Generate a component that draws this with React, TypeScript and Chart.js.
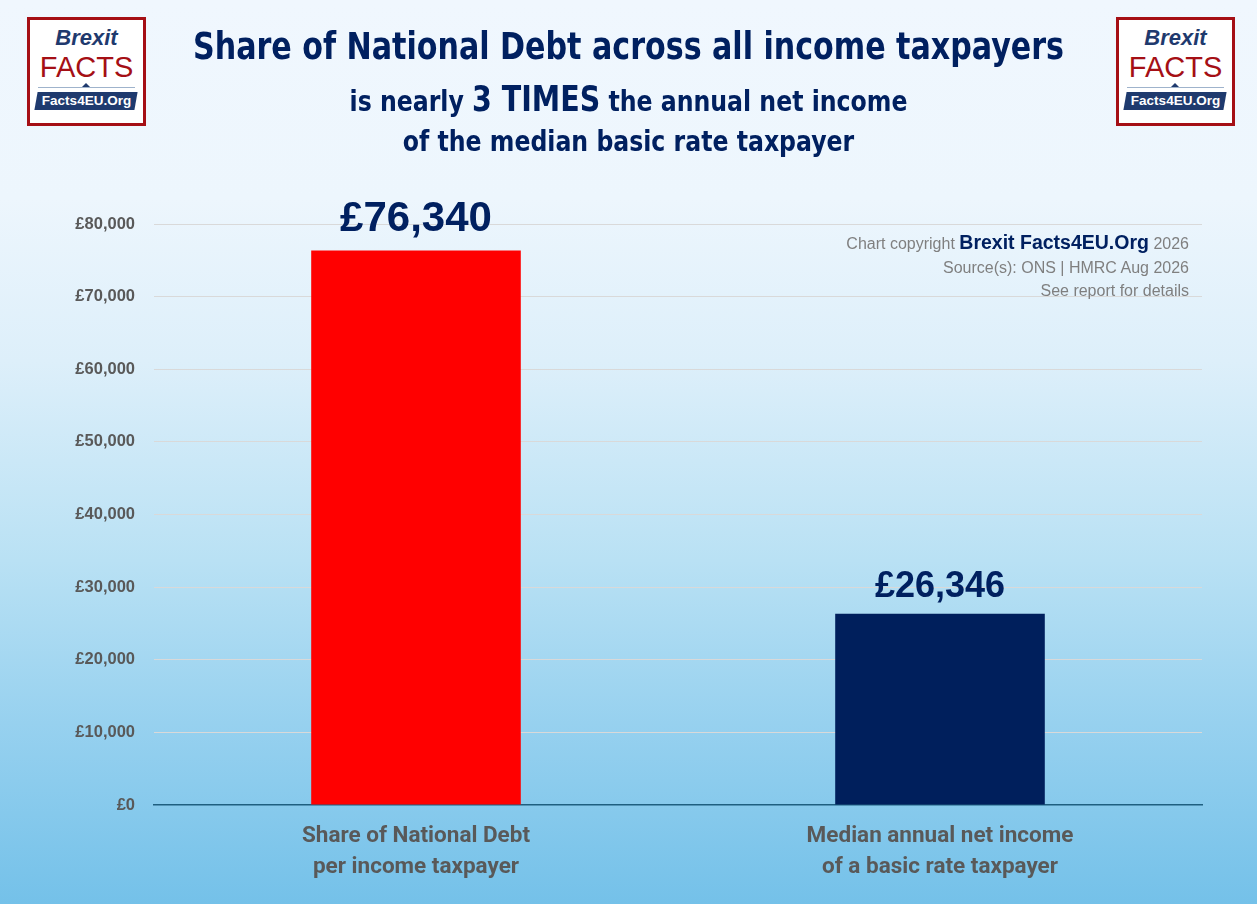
import React, { useEffect, useRef } from "react";
import { Chart, registerables } from "chart.js";

Chart.register(...registerables);

// ---- data ----
const categories: string[][] = [
  ["Share of National Debt", "per income taxpayer"],
  ["Median annual net income", "of a basic rate taxpayer"],
];
const values: number[] = [76340, 26346];
const barColors: string[] = ["#FF0000", "#001F5C"];
const labelFontSizes: number[] = [42, 36];
const yMin = 0;
const yMax = 80000;
const yStep = 10000;

const titleLine1 = "Share of National Debt across all income taxpayers";
const titleLine2a = "is nearly ";
const titleLine2b = "3 TIMES";
const titleLine2c = " the annual net income";
const titleLine3 = "of the median basic rate taxpayer";

const NAVY = "#002060";
const GREY = "#595959";

const fmt = (v: number) => "£" + v.toLocaleString("en-GB");

const valueLabelPlugin = {
  id: "valueLabels",
  afterDatasetsDraw(chart: any) {
    const ctx = chart.ctx;
    const meta = chart.getDatasetMeta(0);
    ctx.save();
    ctx.fillStyle = NAVY;
    ctx.textAlign = "center";
    ctx.textBaseline = "alphabetic";
    meta.data.forEach((bar: any, i: number) => {
      const fs = labelFontSizes[i];
      ctx.font = `bold ${fs}px 'Liberation Sans', Arial, sans-serif`;
      ctx.fillText(fmt(values[i]), bar.x, bar.y - fs * 0.475);
    });
    ctx.restore();
  },
};

function Logo({ left }: { left: number }) {
  return (
    <div
      style={{
        position: "absolute",
        left,
        top: 17,
        width: 119,
        height: 109,
        boxSizing: "border-box",
        border: "3px solid #A50F15",
        background: "#ffffff",
        fontFamily: "'Liberation Sans', Arial, sans-serif",
      }}
    >
      <div
        style={{
          position: "absolute",
          left: 0,
          right: 0,
          top: 6,
          textAlign: "center",
          fontStyle: "italic",
          fontWeight: "bold",
          fontSize: 22,
          lineHeight: "24px",
          color: "#1F3A6E",
        }}
      >
        Brexit
      </div>
      <div
        style={{
          position: "absolute",
          left: 0,
          right: 0,
          top: 31,
          textAlign: "center",
          fontSize: 29,
          lineHeight: "32px",
          color: "#A50F15",
        }}
      >
        FACTS
      </div>
      <div
        style={{
          position: "absolute",
          left: 8,
          right: 8,
          top: 67,
          height: 1,
          background: "#9fb3cc",
        }}
      />
      <div
        style={{
          position: "absolute",
          left: 52,
          top: 63,
          width: 0,
          height: 0,
          borderLeft: "4px solid transparent",
          borderRight: "4px solid transparent",
          borderBottom: "4px solid #1F3A6E",
        }}
      />
      <div
        style={{
          position: "absolute",
          left: 6,
          top: 72,
          width: 100,
          height: 18,
          background: "#1F3A6E",
          transform: "skewX(-10deg)",
        }}
      />
      <div
        style={{
          position: "absolute",
          left: 0,
          right: 0,
          top: 72,
          textAlign: "center",
          fontWeight: "bold",
          fontSize: 13.5,
          lineHeight: "18px",
          color: "#ffffff",
        }}
      >
        Facts4EU.Org
      </div>
    </div>
  );
}

export default function App() {
  const canvasRef = useRef<HTMLCanvasElement | null>(null);

  useEffect(() => {
    document.body.style.margin = "0";
    const canvas = canvasRef.current;
    if (!canvas) return;
    const chart = new Chart(canvas, {
      type: "bar",
      data: {
        labels: categories,
        datasets: [
          {
            data: values,
            backgroundColor: barColors,
            borderWidth: 0,
            barPercentage: 0.8,
            categoryPercentage: 0.5,
          },
        ],
      },
      options: {
        animation: false,
        responsive: false,
        maintainAspectRatio: false,
        layout: { padding: { left: 0, right: 55, top: 224, bottom: 0 } },
        plugins: {
          legend: { display: false },
          tooltip: { enabled: false },
          title: { display: false },
        },
        scales: {
          x: {
            grid: { display: false },
            border: { display: true, color: "#1F5F80", width: 1.5 },
            ticks: {
              color: GREY,
              padding: 8,
              font: {
                family: "Roboto, 'Liberation Sans', Arial, sans-serif",
                size: 22.5,
                weight: "bold",
                lineHeight: 1.38,
              },
            },
            afterFit(scale: any) {
              scale.height = 99;
            },
          },
          y: {
            min: yMin,
            max: yMax,
            grid: {
              color: (c: any) =>
                c.tick && c.tick.value === 0 ? "rgba(0,0,0,0)" : "#D9D9D9",
              lineWidth: 1,
              drawTicks: false,
            },
            border: { display: false },
            ticks: {
              stepSize: yStep,
              padding: 19,
              color: GREY,
              font: {
                family: "'Liberation Sans', Arial, sans-serif",
                size: 16.5,
                weight: "bold",
              },
              callback: (v: any) => fmt(Number(v)),
            },
            afterFit(scale: any) {
              scale.width = 154;
            },
          },
        },
      },
      plugins: [valueLabelPlugin],
    } as any);
    return () => chart.destroy();
  }, []);

  const titleFont = "'Liberation Sans Narrow', 'DejaVu Sans Condensed', Arial, sans-serif";
  const lineStyle = (top: number, size: number, lh: number): React.CSSProperties => ({
    position: "absolute",
    left: 0,
    width: 1257,
    top,
    textAlign: "center",
    fontFamily: titleFont,
    fontWeight: "bold",
    fontSize: size,
    lineHeight: `${lh}px`,
    color: NAVY,
    transform: "scaleX(0.905)",
    transformOrigin: "628.5px 0",
    whiteSpace: "nowrap",
  });

  return (
    <div
      style={{
        position: "absolute",
        left: 0,
        top: 0,
        width: 1257,
        height: 904,
        overflow: "hidden",
        background:
          "linear-gradient(to bottom, #F0F7FE 0%, #EDF6FD 22%, #DDEFFA 40%, #B9E1F4 62%, #97D1EF 80%, #74C1E9 100%)",
      }}
    >
      <canvas
        ref={canvasRef}
        width={1257}
        height={904}
        style={{ position: "absolute", left: 0, top: 0, width: 1257, height: 904 }}
      />
      <div style={lineStyle(26, 37, 42)}>{titleLine1}</div>
      <div style={lineStyle(79, 29, 40)}>
        {titleLine2a}
        <span style={{ fontSize: 35 }}>{titleLine2b}</span>
        {titleLine2c}
      </div>
      <div style={lineStyle(123, 29, 36)}>{titleLine3}</div>
      <div
        style={{
          position: "absolute",
          right: 68,
          top: 231,
          textAlign: "right",
          fontFamily: "'Liberation Sans', Arial, sans-serif",
          fontSize: 16,
          lineHeight: "23.5px",
          color: "#7F7F7F",
          whiteSpace: "nowrap",
        }}
      >
        <div>
          Chart copyright{" "}
          <span style={{ color: NAVY, fontWeight: "bold", fontSize: 19.5 }}>
            Brexit Facts4EU.Org
          </span>{" "}
          2026
        </div>
        <div>Source(s): ONS | HMRC Aug 2026</div>
        <div>See report for details</div>
      </div>
      <Logo left={27} />
      <Logo left={1116} />
    </div>
  );
}
